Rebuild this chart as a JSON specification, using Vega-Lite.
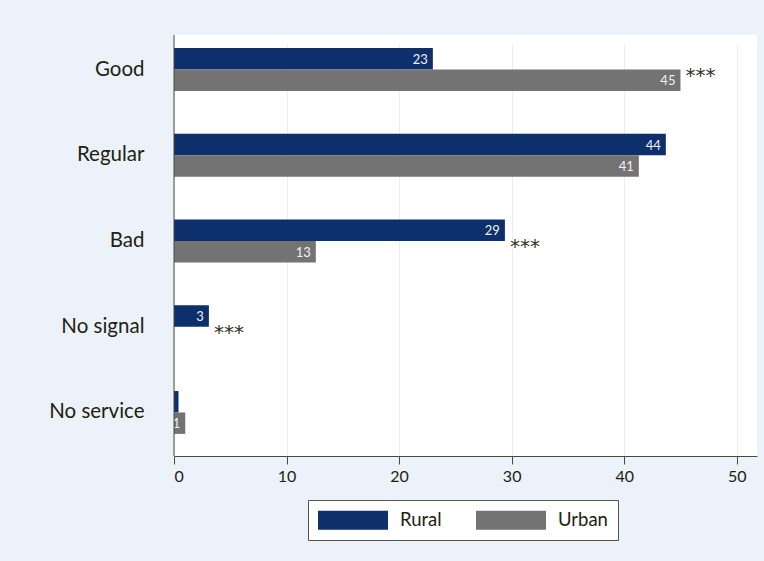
{
  "$schema": "https://vega.github.io/schema/vega-lite/v6.json",
  "width": 583,
  "height": 421,
  "autosize": "none",
  "padding": {"left": 174, "top": 35, "right": 7, "bottom": 105},
  "background": "#ebf2fa",
  "config": {"view": {"fill": "white", "stroke": null}, "font": "Lato"},
  "datasets": {
    "bars": [
      {"cat": "Good", "area": "Rural", "value": 23.0, "label": "23"},
      {"cat": "Good", "area": "Urban", "value": 45.0, "label": "45"},
      {"cat": "Regular", "area": "Rural", "value": 43.7, "label": "44"},
      {"cat": "Regular", "area": "Urban", "value": 41.3, "label": "41"},
      {"cat": "Bad", "area": "Rural", "value": 29.4, "label": "29"},
      {"cat": "Bad", "area": "Urban", "value": 12.6, "label": "13"},
      {"cat": "No signal", "area": "Rural", "value": 3.1, "label": "3"},
      {"cat": "No signal", "area": "Urban", "value": 0.0, "label": ""},
      {"cat": "No service", "area": "Rural", "value": 0.4, "label": ""},
      {"cat": "No service", "area": "Urban", "value": 1.0, "label": "1"}
    ],
    "stars": [
      {"cat": "Good", "pos": 45.0, "sig": "***"},
      {"cat": "Bad", "pos": 29.4, "sig": "***"},
      {"cat": "No signal", "pos": 3.1, "sig": "***"}
    ]
  },
  "layer": [
    {
      "data": {"name": "bars"},
      "mark": {"type": "bar"},
      "encoding": {
        "y": {
          "field": "cat",
          "type": "nominal",
          "sort": ["Good", "Regular", "Bad", "No signal", "No service"],
          "scale": {"range": [0, 412], "paddingInner": 0.5, "paddingOuter": 0.1526},
          "axis": {
            "title": null,
            "domain": false,
            "ticks": false,
            "labelPadding": 30,
            "labelFontSize": 20.5,
            "labelColor": "#222211"
          }
        },
        "x": {
          "field": "value",
          "type": "quantitative",
          "scale": {"domain": [0, 51.8], "nice": false},
          "axis": {
            "title": null,
            "values": [0, 10, 20, 30, 40, 50],
            "grid": true,
            "gridColor": "#e6eef8",
            "gridWidth": 1,
            "domainColor": "#4a4a3a",
            "tickColor": "#4a4a3a",
            "tickSize": 8,
            "labelFontSize": 16,
            "labelColor": "#222211",
            "labelPadding": 4
          }
        },
        "yOffset": {"field": "area", "type": "nominal", "sort": ["Rural", "Urban"], "scale": {"paddingInner": 0, "paddingOuter": 0}},
        "color": {
          "field": "area",
          "type": "nominal",
          "scale": {"domain": ["Rural", "Urban"], "range": ["#0d2f6b", "#737373"]},
          "legend": {
            "orient": "none",
            "legendX": 134,
            "legendY": 465,
            "direction": "horizontal",
            "title": null,
            "symbolType": "M-1,-0.95H6V0.95H-1Z",
            "symbolSize": 400,
            "symbolStrokeWidth": 0,
            "symbolOpacity": 1,
            "labelOffset": 62,
            "columnPadding": 34,
            "labelFontSize": 18.5,
            "labelColor": "#222211",
            "fillColor": "white",
            "strokeColor": "#555544",
            "padding": 10
          }
        }
      }
    },
    {
      "data": {"name": "bars"},
      "mark": {"type": "text", "align": "right", "baseline": "middle", "dx": -5, "dy": 1, "color": "#f2f2f2", "fontSize": 13},
      "encoding": {
        "y": {"field": "cat", "type": "nominal", "sort": ["Good", "Regular", "Bad", "No signal", "No service"]},
        "x": {"field": "value", "type": "quantitative"},
        "yOffset": {"field": "area", "type": "nominal", "sort": ["Rural", "Urban"], "scale": {"paddingInner": 0, "paddingOuter": 0}},
        "text": {"field": "label"}
      }
    },
    {
      "data": {"name": "stars"},
      "mark": {"type": "text", "align": "left", "baseline": "middle", "dx": 5, "dy": 6, "color": "#333322", "fontSize": 20, "font": "DejaVu Sans"},
      "encoding": {
        "y": {"field": "cat", "type": "nominal", "sort": ["Good", "Regular", "Bad", "No signal", "No service"]},
        "x": {"field": "pos", "type": "quantitative"},
        "text": {"field": "sig"}
      }
    },
    {
      "data": {"values": [{}]},
      "mark": {"type": "rule", "color": "#4a4a3a", "strokeWidth": 1},
      "encoding": {"x": {"datum": 0}}
    }
  ]
}
